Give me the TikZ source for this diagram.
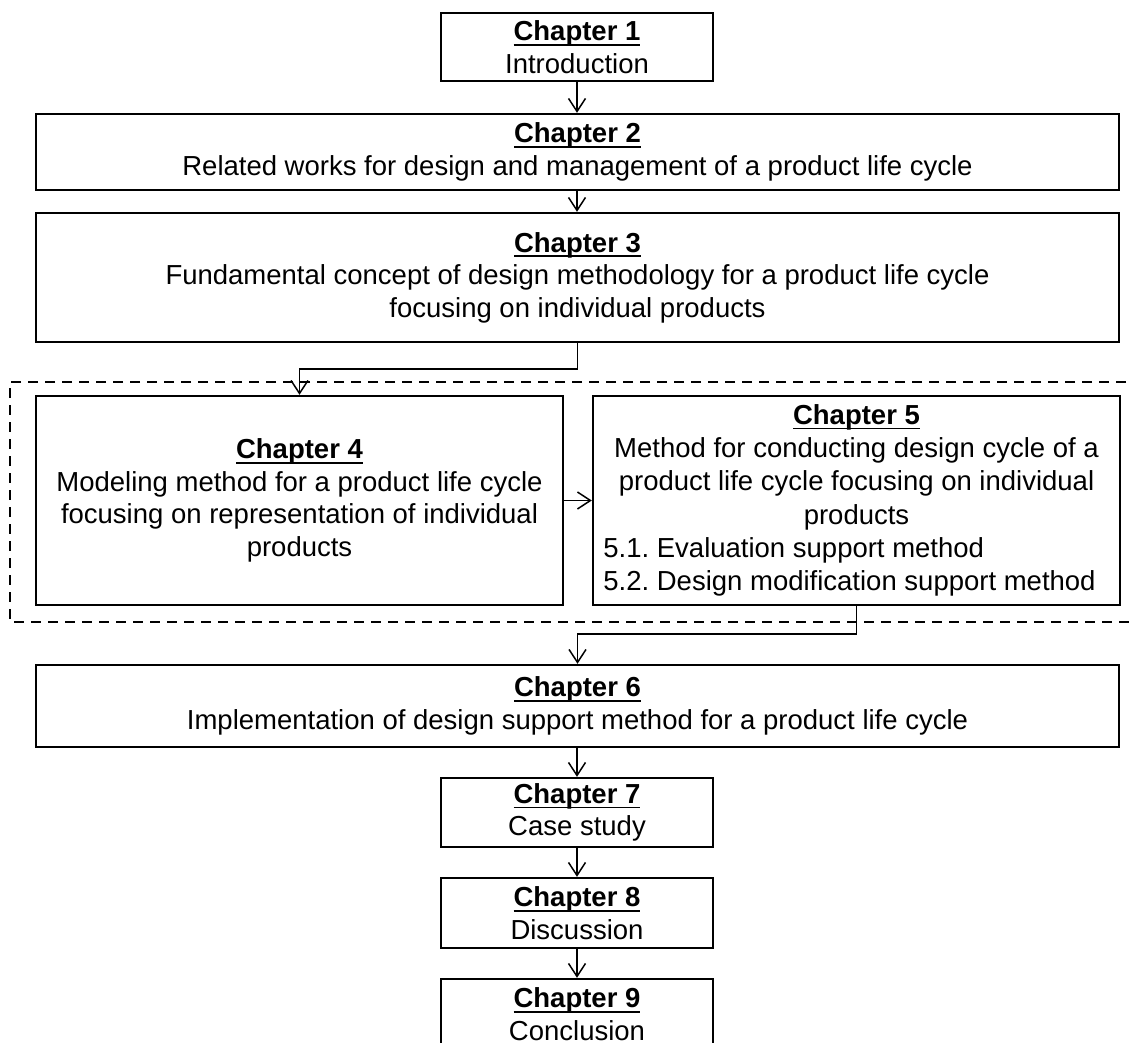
\documentclass[tikz,border=0pt]{standalone}
\usepackage{fontspec}
\setmainfont{Liberation Sans}
\frenchspacing
\usetikzlibrary{arrows.meta}
% bold chapter heading with a rule just under the baseline
\newcommand\chaptitle[1]{\setbox0\hbox{\bfseries #1}\rlap{\rule[-5pt]{\wd0}{1.8pt}}\box0}
\begin{document}
\begin{tikzpicture}[x=1pt,y=-1pt,
  txt/.style={inner sep=0pt, align=center, font=\fontsize{27.5}{32.5}\selectfont},
  box/.style={txt, draw, line width=2.4pt, rectangle},
  link/.style={line width=1.6pt,
    -{Straight Barb[length=13pt,width=17pt,line width=1.5pt]}},
  group/.style={line width=2.4pt, dash pattern=on 10pt off 7pt}]
\useasboundingbox (0,0) rectangle (1132,1043);

% outline grouping chapters 4 and 5
\draw[group] (1160,382) -- (10,382) -- (10,622) -- (1160,622);

\node[box, minimum width=272pt, minimum height=68pt] (c1) at (577,47)
  {\chaptitle{Chapter 1}\\Introduction};
\node[box, minimum width=1083pt, minimum height=76pt] (c2) at (577.5,152)
  {\chaptitle{Chapter 2}\\Related works for design and management of a product life cycle};
\node[box, minimum width=1083pt, minimum height=129pt] (c3) at (577.5,277.5)
  {\chaptitle{Chapter 3}\\Fundamental concept of design methodology for a product life cycle\\focusing on individual products};
\node[box, minimum width=527pt, minimum height=209pt] (c4) at (299.5,500.5)
  {\chaptitle{Chapter 4}\\Modeling method for a product life cycle\\focusing on representation of individual\\products};
% chapter 5: frame and its text
\node[box, minimum width=527pt, minimum height=209pt] (c5) at (856.5,500.5) {};
\node[txt, font=\fontsize{27.5}{33.2}\selectfont] (c5text) at ([yshift=-2pt]c5.center)
  {\chaptitle{Chapter 5}\\Method for conducting design cycle of a\\product life cycle focusing on individual\\products\\%
   \kern-14pt\begin{tabular}[t]{@{}l@{}}5.1. Evaluation support method\\5.2. Design modification support method\end{tabular}};
\node[box, minimum width=1083pt, minimum height=82pt] (c6) at (577.5,706)
  {\chaptitle{Chapter 6}\\Implementation of design support method for a product life cycle};
\node[box, minimum width=272pt, minimum height=69pt] (c7) at (577,812.5)
  {\chaptitle{Chapter 7}\\Case study};
\node[box, minimum width=272pt, minimum height=70pt] (c8) at (577,913)
  {\chaptitle{Chapter 8}\\Discussion};
\node[box, minimum width=272pt, minimum height=70pt] (c9) at (577,1014)
  {\chaptitle{Chapter 9}\\Conclusion};

% bends of the elbow connectors
\coordinate (k1) at (577.5,369);
\coordinate (k2) at (856.5,634);

\draw[link] (c1.south) -- (c1.south |- c2.north);
\draw[link] (c1.south |- c2.south) -- (c1.south |- c3.north);
\draw[link] (c3.south) -- (k1) -| (c4.north);
\draw[link] (c4.east) -- (c5.west);
\draw[link] (c5.south) -- (k2) -| (c6.north);
\draw[link] (c7.north |- c6.south) -- (c7.north);
\draw[link] (c7.south) -- (c8.north);
\draw[link] (c8.south) -- (c9.north);
\end{tikzpicture}
\end{document}
